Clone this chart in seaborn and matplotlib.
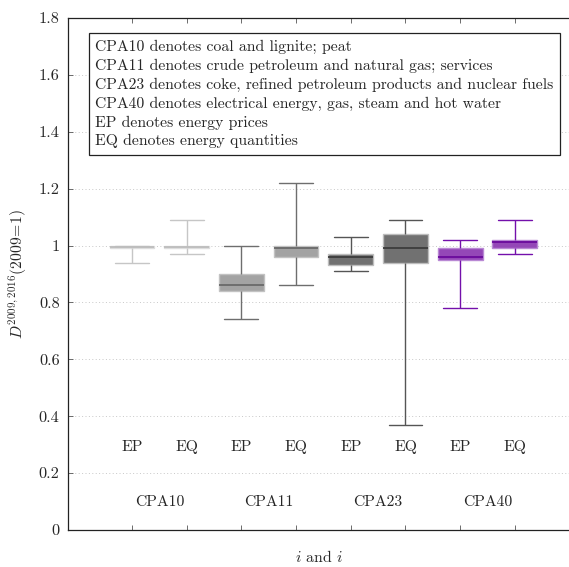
import numpy as np
import pandas as pd
import matplotlib
matplotlib.use("Agg")
import matplotlib.pyplot as plt
from matplotlib.ticker import FuncFormatter
import seaborn as sns

# ---- data (five-number summaries) ----
groups = ["CPA10", "CPA11", "CPA23", "CPA40"]
series = ["EP", "EQ"]
lower  = [0.94, 0.97, 0.74, 0.86, 0.91, 0.37, 0.78, 0.97]
q1     = [0.99, 0.99, 0.84, 0.96, 0.93, 0.94, 0.95, 0.99]
median = [0.996, 0.996, 0.86, 0.99, 0.96, 0.99, 0.96, 1.012]
q3     = [1.00, 1.00, 0.90, 1.00, 0.97, 1.04, 0.99, 1.02]
upper  = [1.00, 1.09, 1.00, 1.22, 1.03, 1.09, 1.02, 1.09]
yticks = [0, 0.2, 0.4, 0.6, 0.8, 1.0, 1.2, 1.4, 1.6, 1.8]
legend_lines = [
    "CPA10 denotes coal and lignite; peat",
    "CPA11 denotes crude petroleum and natural gas; services",
    "CPA23 denotes coke, refined petroleum products and nuclear fuels",
    "CPA40 denotes electrical energy, gas, steam and hot water",
    "EP denotes energy prices",
    "EQ denotes energy quantities",
]

# styles per group
fills   = {"CPA10": "#cecece", "CPA11": "#a3a3a3", "CPA23": "#717171", "CPA40": "#9447b7"}
edges   = {"CPA10": "#dddddd", "CPA11": "#c2c2c2", "CPA23": "#bdbdbd", "CPA40": "#b988d4"}
lines   = {"CPA10": "#c6c6c6", "CPA11": "#6e6e6e", "CPA23": "#555555", "CPA40": "#7410ab"}
medians = {"CPA10": "#bdbdbd", "CPA11": "#6a6a6a", "CPA23": "#3c3c3c", "CPA40": "#6a0a9c"}

# long-form table: each box given by its five-number summary
order = [f"{g} {s}" for g in groups for s in series]
rows = []
i = 0
for g in groups:
    for s in series:
        for v in (lower[i], q1[i], median[i], q3[i], upper[i]):
            rows.append({"group": g, "series": s, "pos": f"{g} {s}", "value": v})
        i += 1
df = pd.DataFrame(rows)

sns.set_theme(style="white")
plt.rcParams["font.family"] = ["cmr10", "DejaVu Serif"]
plt.rcParams["mathtext.fontset"] = "cm"
plt.rcParams["axes.formatter.use_mathtext"] = True

FS = 11.3

fig = plt.figure(figsize=(5.69, 5.67), dpi=100)
ax = fig.add_axes([0.1195, 0.0653, 0.8805, 0.903])

for g in groups:
    sub = df[df["group"] == g]
    sns.boxplot(data=sub, x="pos", y="value", order=order, ax=ax,
                color=fills[g], linecolor=lines[g], saturation=1,
                whis=np.inf, width=0.82, linewidth=1.0,
                boxprops=dict(edgecolor=edges[g], linewidth=1.0),
                medianprops=dict(color=medians[g], linewidth=1.3),
                capwidths=0.62)

ax.set_xlim(-1.17, 7.99)
ax.set_ylim(0, 1.8)
ax.set_yticks(yticks)
ax.yaxis.set_major_formatter(FuncFormatter(lambda v, p: f"{v:g}"))
ax.set_xticks(range(len(order)))
ax.set_xticklabels([""] * len(order))
ax.tick_params(axis="both", direction="in", length=3.5, width=0.6,
               color="#555555", labelsize=FS + 0.5, top=True, left=True, bottom=True)
ax.tick_params(axis="y", pad=6)
ax.yaxis.grid(True, linestyle=(0, (1, 2.5)), color="#c8c8c8", linewidth=0.7)
ax.set_axisbelow(True)
for side in ["left", "bottom", "top"]:
    ax.spines[side].set_color("#222222")
    ax.spines[side].set_linewidth(0.9)
ax.spines["right"].set_visible(False)

# category labels inside the axes
for k, name in enumerate(order):
    ax.text(k, 0.292, name.split()[1], ha="center", va="center", fontsize=FS)
for j, g in enumerate(groups):
    ax.text(2 * j + 0.5, 0.098, g, ha="center", va="center", fontsize=FS)

ax.set_xlabel(r"$i$ and $i$", fontsize=FS)
ax.xaxis.set_label_coords(0.5, -0.038)
ax.set_ylabel(r"$D^{2009,2016}(2009\!=\!1)$", fontsize=FS)
ax.yaxis.set_label_coords(-0.077, 0.5)

ax.text(0.054, 0.958, "\n".join(legend_lines), transform=ax.transAxes,
        ha="left", va="top", fontsize=FS, linespacing=1.42,
        bbox=dict(boxstyle="square,pad=0.4", fc="white", ec="#222222", lw=0.9))

fig.savefig("out.png", dpi=100)
